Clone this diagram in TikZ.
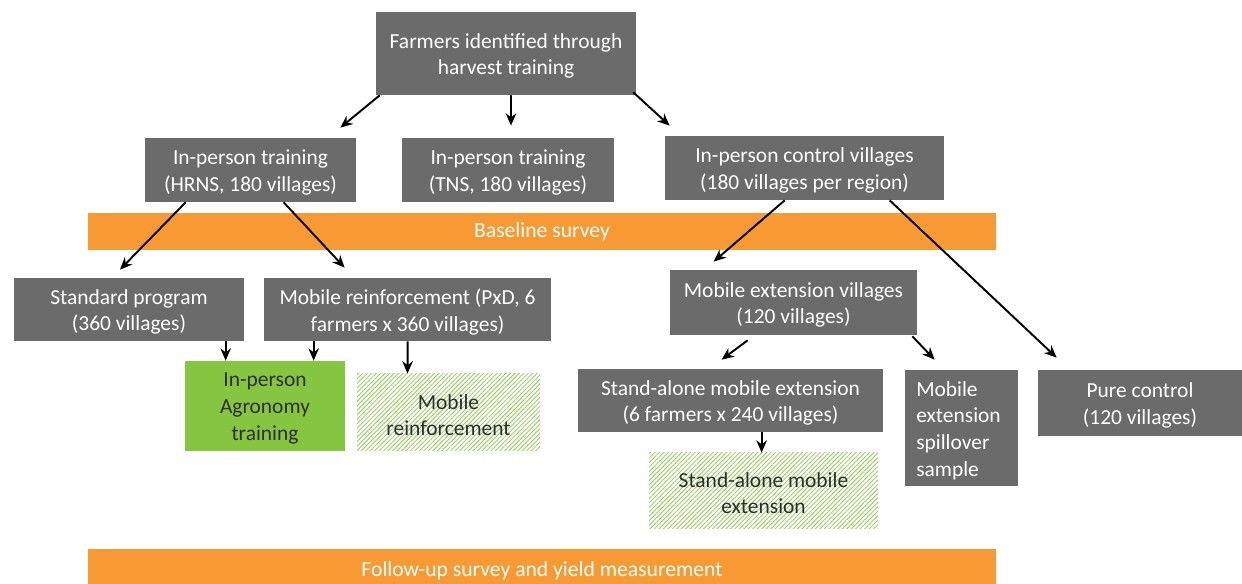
\documentclass[tikz,border=0pt]{standalone}
\usepackage{fontspec}
\setmainfont{Carlito}
\usetikzlibrary{arrows.meta,calc,fit,patterns.meta}
\definecolor{boxgray}{HTML}{6B6B6B}
\definecolor{barorange}{HTML}{F89A33}
\definecolor{solidgreen}{HTML}{86C540}
\definecolor{hatchgreen}{HTML}{9ED36A}
\definecolor{darktext}{HTML}{2E2E2E}
\begin{document}
\begin{tikzpicture}[x=0.02cm,y=-0.02cm,
  boxfont/.style={font=\fontsize{12.2}{15.2}\selectfont},
  graybox/.style={fill=boxgray,draw=none,inner sep=0pt},
  greenbox/.style={fill=solidgreen,draw=none,inner sep=0pt},
  hatchbox/.style={pattern={Lines[angle=45,distance=1.8pt,line width=0.55pt]},pattern color=hatchgreen,draw=none,inner sep=0pt},
  bar/.style={fill=barorange,draw=none,inner sep=0pt},
  wlabel/.style={boxfont,text=white,align=center,yshift=-0.05cm},
  dlabel/.style={boxfont,text=darktext,align=center,yshift=-0.05cm},
  blabel/.style={text=white,font=\fontsize{12.3}{14}\selectfont},
  arr/.style={-{Stealth[length=7pt,width=6pt]},line width=1.1pt,black}]
\useasboundingbox (0,0) rectangle (1242,584);
% boxes
\node[graybox,fit={(376,12)(636,95)}] (top) {};
\node[wlabel] at (top.center) {Farmers identified through\\harvest training};
\node[graybox,fit={(145,138)(356,202)}] (hrns) {};
\node[wlabel] at (hrns.center) {In-person training\\(HRNS, 180 villages)};
\node[graybox,fit={(402,138)(614,202)}] (tns) {};
\node[wlabel] at (tns.center) {In-person training\\(TNS, 180 villages)};
\node[graybox,fit={(665,136)(944,200)}] (ctrl) {};
\node[wlabel] at (ctrl.center) {In-person control villages\\(180 villages per region)};
\node[bar,fit={(88,213)(996,250)}] (base) {};
\node[blabel] at (base.center) {Baseline survey};
\node[graybox,fit={(14,278)(244,341)}] (std) {};
\node[wlabel] at (std.center) {Standard program\\(360 villages)};
\node[graybox,fit={(264,278)(551,341)}] (mr) {};
\node[wlabel] at (mr.center) {Mobile reinforcement (PxD, 6\\farmers x 360 villages)};
\node[graybox,fit={(670,270)(917,335)}] (mev) {};
\node[wlabel] at (mev.center) {Mobile extension villages\\(120 villages)};
\node[greenbox,fit={(185,361)(345,451)}] (agro) {};
\node[dlabel] at (agro.center) {In-person\\Agronomy\\training};
\node[hatchbox,fit={(357,374)(540,451)}] (mrh) {};
\node[dlabel] at (mrh.center) {Mobile\\reinforcement};
\node[graybox,fit={(578,369)(883,432)}] (sa) {};
\node[wlabel] at (sa.center) {Stand-alone mobile extension\\(6 farmers x 240 villages)};
\node[graybox,fit={(905,370)(1018,486)}] (spill) {};
\node[wlabel,align=left] at ($(spill.center)+(-3,0)$) {Mobile\\extension\\spillover\\sample};
\node[graybox,fit={(1038,370)(1242,436)}] (pure) {};
\node[wlabel] at (pure.center) {Pure control\\(120 villages)};
\node[hatchbox,fit={(649,453)(878,528)}] (sah) {};
\node[dlabel] at (sah.center) {Stand-alone mobile\\extension};
\node[bar,fit={(88,549)(996,584)}] (follow) {};
\node[blabel] at ($(follow.center)+(0,4)$) {Follow-up survey and yield measurement};
% arrows
\draw[arr] ($(top.south west)+(4,0)$) -- ($(hrns.north east)+(-16,-10)$);
\draw[arr] ($(top.south)+(5,0)$) -- ($(tns.north)+(3,-12)$);
\draw[arr] ($(top.south east)+(-3,-3)$) -- ($(ctrl.north west)+(5,-10)$);
\draw[arr] ($(hrns.south west)+(41,0)$) -- ($(std.north)+(-9,-8)$);
\draw[arr] ($(hrns.south west)+(139,0)$) -- ($(mr.north west)+(81,-10)$);
\draw[arr] ($(ctrl.south west)+(120,0)$) -- ($(mev.north west)+(44,-8)$);
\draw[arr] ($(ctrl.south west)+(225,0)$) -- ($(pure.north west)+(19,-12)$);
\draw[arr] ($(std.south west)+(212,0)$) -- ($(agro.north west)+(41,0)$);
\draw[arr] ($(mr.south west)+(50,0)$) -- ($(agro.north west)+(129,0)$);
\draw[arr] ($(mr.south west)+(144,0)$) -- ($(mrh.north west)+(51,0)$);
\draw[arr] ($(mev.south west)+(78,5)$) -- ($(sa.north west)+(144,-9)$);
\draw[arr] ($(mev.south east)+(-5,1)$) -- ($(spill.north west)+(30,-10)$);
\draw[arr] ($(sa.south west)+(184,0)$) -- ($(sah.north west)+(113,0)$);
\end{tikzpicture}
\end{document}
